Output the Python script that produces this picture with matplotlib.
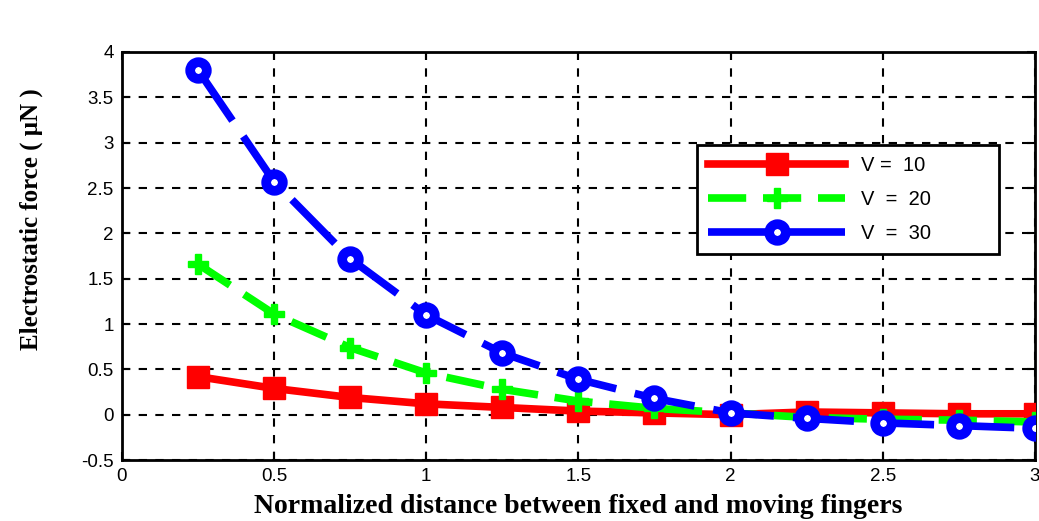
import matplotlib
matplotlib.use("Agg")
import matplotlib.pyplot as plt
from matplotlib.ticker import FuncFormatter, MultipleLocator

x = [0.25, 0.5, 0.75, 1.0, 1.25, 1.5, 1.75, 2.0, 2.25, 2.5, 2.75, 3.0]
v10 = [0.42, 0.29, 0.19, 0.12, 0.08, 0.04, 0.02, 0.0, 0.03, 0.02, 0.01, 0.01]
v20 = [1.66, 1.11, 0.74, 0.46, 0.28, 0.15, 0.07, 0.02, -0.03, -0.05, -0.06, -0.08]
v30 = [3.80, 2.57, 1.72, 1.10, 0.68, 0.39, 0.18, 0.02, -0.04, -0.09, -0.12, -0.15]
labels = ["V =  10", "V  =  20", "V  =  30"]
xlabel = "Normalized distance between fixed and moving fingers"
ylabel = "Electrostatic force ( μN )"

fig = plt.figure(figsize=(10.39, 5.21), dpi=100)
ax = fig.add_axes([0.1174, 0.117, 0.8786, 0.7832])

ax.plot(x, v10, color="red", lw=5.5, ls="-", marker="s", ms=16,
        mfc="red", mec="red", label=labels[0], zorder=3)
ax.plot(x, v20, color="#00ff00", lw=5.5, ls=(0, (5, 2.2)), marker="P", ms=14,
        mfc="#00ff00", mec="#00ff00", label=labels[1], zorder=3)
ax.plot(x, v30, color="blue", lw=5.5, ls=(0, (8, 2.5)), marker="o", ms=12,
        mfc="white", mec="blue", mew=7, label=labels[2], zorder=4)

ax.set_xlim(0, 3)
ax.set_ylim(-0.5, 4)
ax.xaxis.set_major_locator(MultipleLocator(0.5))
ax.yaxis.set_major_locator(MultipleLocator(0.5))
fmt = FuncFormatter(lambda v, p: "%g" % v)
ax.xaxis.set_major_formatter(fmt)
ax.yaxis.set_major_formatter(fmt)

ax.grid(True, color="black", ls=(0, (4, 4)), lw=1.5)
ax.tick_params(direction="in", length=6, width=1.5, top=True, right=True,
               labelsize=13.5, pad=6)
for lab in ax.get_xticklabels() + ax.get_yticklabels():
    lab.set_family("Liberation Sans")
for s in ax.spines.values():
    s.set_linewidth(2)

ax.set_xlabel(xlabel, fontsize=20, fontweight="bold", family="Liberation Serif", labelpad=6)
ax.set_ylabel(ylabel, fontsize=18, fontweight="bold", family="Liberation Serif")
ax.yaxis.set_label_coords(-0.087, 0.59)

h = 107 / 408
leg = ax.legend(loc="upper left", bbox_to_anchor=(0.63, 0.772 - h, 0.331, h),
                mode="expand", fancybox=False,
                edgecolor="black", framealpha=1, handlelength=6.8,
                prop={"family": "Liberation Sans", "size": 14.5},
                borderpad=0.55, labelspacing=0.75, handletextpad=0.8,
                borderaxespad=0)
leg.get_frame().set_linewidth(2)

fig.savefig("out.png", dpi=100)
